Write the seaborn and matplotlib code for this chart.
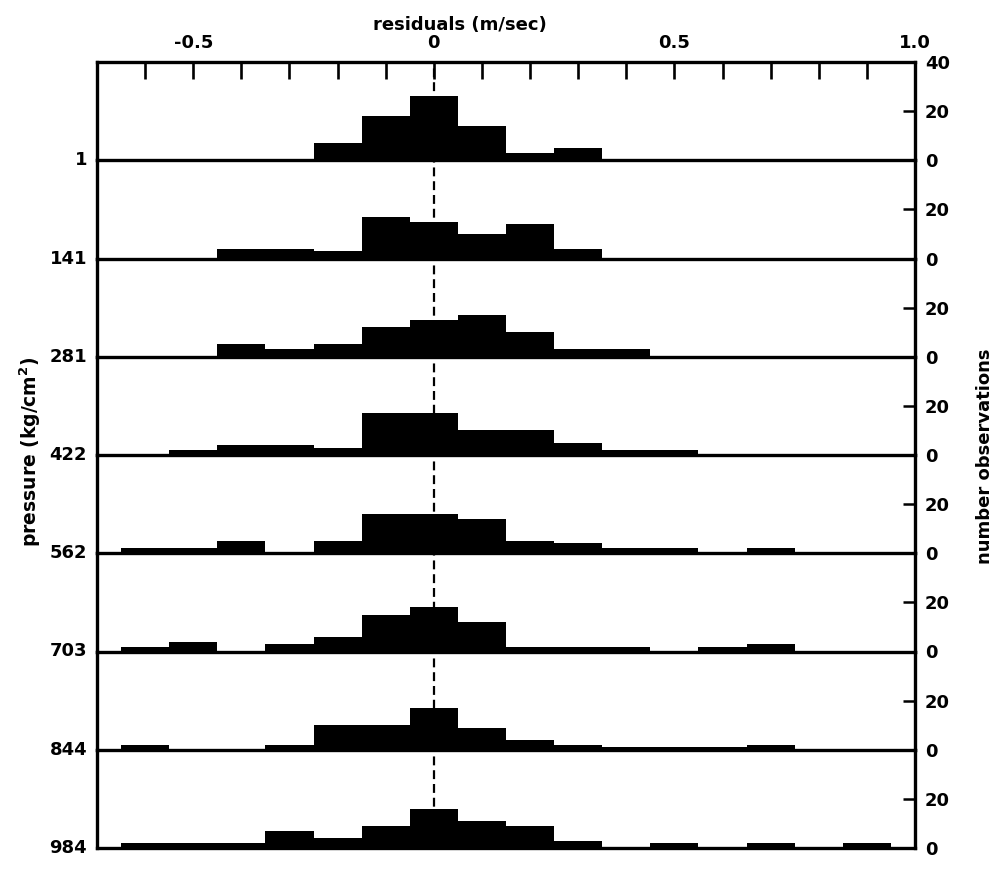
import numpy as np
import pandas as pd
import matplotlib
matplotlib.use("Agg")
import matplotlib.pyplot as plt
import seaborn as sns

# ---------------- data ----------------
bin_centers = [-0.6, -0.5, -0.4, -0.3, -0.2, -0.1, 0.0, 0.1,
               0.2, 0.3, 0.4, 0.5, 0.6, 0.7, 0.8, 0.9]

pressure_labels = ["1", "141", "281", "422", "562", "703", "844", "984"]

counts_1   = [0, 0, 0, 0, 7, 18, 26, 14, 3, 5, 0, 0, 0, 0, 0, 0]
counts_141 = [0, 0, 4, 4, 3, 17, 15, 10, 14, 4, 0, 0, 0, 0, 0, 0]
counts_281 = [0, 0, 5, 3, 5, 12, 15, 17, 10, 3, 3, 0, 0, 0, 0, 0]
counts_422 = [0, 2, 4, 4, 3, 17, 17, 10, 10, 5, 2, 2, 0, 0, 0, 0]
counts_562 = [2, 2, 5, 0, 5, 16, 16, 14, 5, 4, 2, 2, 0, 2, 0, 0]
counts_703 = [2, 4, 0, 3, 6, 15, 18, 12, 2, 2, 2, 0, 2, 3, 0, 0]
counts_844 = [2, 0, 0, 2, 10, 10, 17, 9, 4, 2, 1, 1, 1, 2, 0, 0]
counts_984 = [2, 2, 2, 7, 4, 9, 16, 11, 9, 3, 0, 2, 0, 2, 0, 2]

all_counts = [counts_1, counts_141, counts_281, counts_422,
              counts_562, counts_703, counts_844, counts_984]

x_major_ticks = [-0.5, 0.0, 0.5, 1.0]
x_major_labels = ["-0.5", "0", "0.5", "1.0"]
x_minor_ticks = [-0.6, -0.4, -0.3, -0.2, -0.1, 0.1, 0.2, 0.3, 0.4, 0.6, 0.7, 0.8, 0.9]

# ---------------- style ----------------
sns.set_theme(style="white")
plt.rcParams["font.family"] = ["DejaVu Sans"]
plt.rcParams["font.weight"] = "bold"
plt.rcParams["mathtext.default"] = "bf"
for key in ["text.color", "axes.labelcolor", "xtick.color", "ytick.color",
            "axes.edgecolor"]:
    plt.rcParams[key] = "black"

FS = 13
LW = 2.4

centers = np.array(bin_centers)
edges = [float(e) for e in np.append(centers - 0.05, centers[-1] + 0.05)]

fig = plt.figure(figsize=(10, 8.69), dpi=100)
axes = fig.subplots(
    8, 1, sharex=True,
    gridspec_kw=dict(hspace=0, left=0.097, right=0.915,
                     top=1 - 62 / 869, bottom=1 - 848 / 869),
)

for i, (ax, counts, plab) in enumerate(zip(axes, all_counts, pressure_labels)):
    ax.set_facecolor("none")
    df = pd.DataFrame({"residual": bin_centers, "count": counts})
    ax.axvline(0, color="black", lw=1.6, ls=(0, (4, 2.2)), zorder=0)
    sns.histplot(data=df, x="residual", weights="count", bins=edges, ax=ax,
                 element="step", fill=True, color="black", alpha=1,
                 linewidth=0)
    ax.set_xlim(-0.7, 1.0)
    ax.set_ylim(0, 40)
    ax.set_xlabel("")
    ax.set_ylabel("")
    for side, sp in ax.spines.items():
        sp.set_color("black")
        sp.set_linewidth(LW)
        sp.set_zorder(3)
    if i > 0:
        ax.spines["top"].set_visible(False)

    # right-hand count axis
    ax.yaxis.tick_right()
    ax.set_yticks([0, 20, 40] if i == 0 else [0, 20])
    ax.set_yticklabels(["0", "20", "40"] if i == 0 else ["0", "20"],
                       fontsize=FS, fontweight="bold")
    ax.tick_params(axis="y", which="both", direction="in", length=9,
                   width=1.8, pad=7, colors="black", left=False, right=True,
                   labelleft=False, labelright=True)

    # left-hand pressure label at the baseline
    ax.text(-0.012, 0, plab, transform=ax.transAxes, ha="right",
            va="center", fontsize=FS, fontweight="bold", color="black")

    if i == 0:
        ax.xaxis.tick_top()
        ax.set_xticks(x_major_ticks)
        ax.set_xticklabels(x_major_labels, fontsize=FS, fontweight="bold")
        ax.set_xticks(x_minor_ticks, minor=True)
        ax.tick_params(axis="x", which="both", direction="in", length=12,
                       width=1.9, pad=7, top=True, bottom=False,
                       labeltop=True, labelbottom=False, colors="black")
    else:
        ax.tick_params(axis="x", which="both", top=False, bottom=False,
                       labeltop=False, labelbottom=False)

fig.text(0.460, 1 - 25 / 869, "residuals (m/sec)", ha="center", va="center",
         fontsize=FS, fontweight="bold", color="black")
fig.text(0.030, 1 - 452 / 869, r"pressure (kg/cm$^{2}$)", ha="center",
         va="center", rotation=90, fontsize=FS + 0.5, fontweight="bold",
         color="black")
fig.text(0.985, 1 - 456 / 869, "number observations", ha="center",
         va="center", rotation=90, fontsize=FS, fontweight="bold",
         color="black")

fig.savefig("out.png", dpi=100, facecolor="white")
